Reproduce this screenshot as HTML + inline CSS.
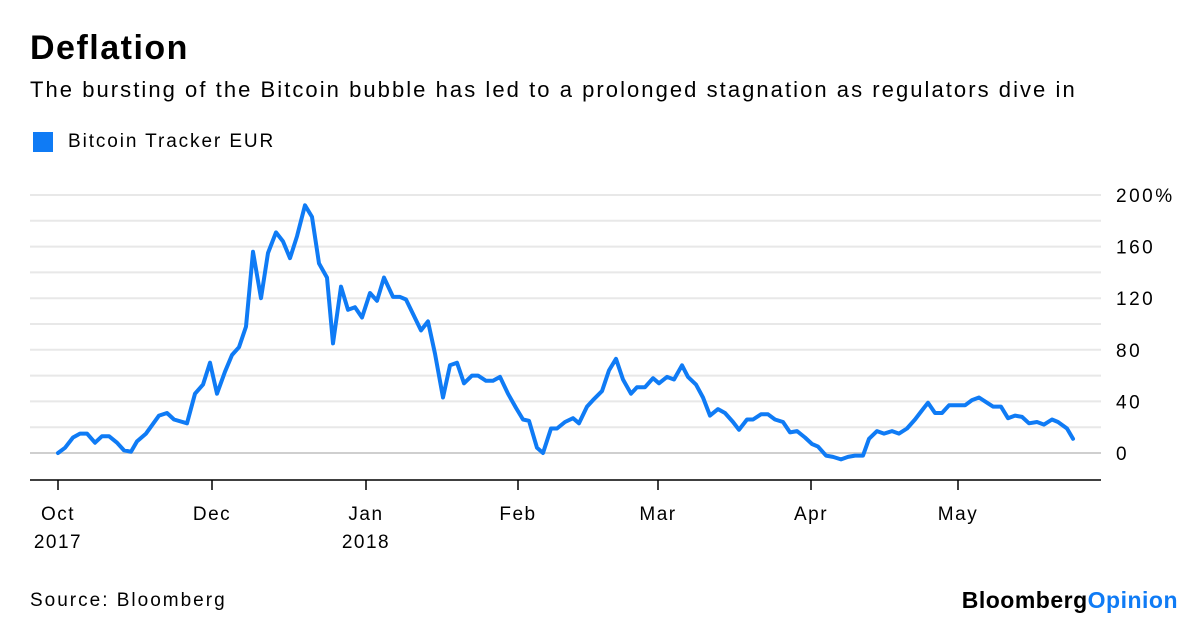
<!DOCTYPE html>
<html><head><meta charset="utf-8"><style>
body{margin:0;width:1200px;height:627px;background:#fff;font-family:"Liberation Sans",sans-serif;overflow:hidden;position:relative}
.t{position:absolute;white-space:nowrap;color:#000}
</style></head><body>
<div class="t" style="left:30px;top:29px;font-size:34px;font-weight:bold;letter-spacing:1.5px">Deflation</div>
<div class="t" style="left:30px;top:77px;font-size:22px;letter-spacing:2.05px">The bursting of the Bitcoin bubble has led to a prolonged stagnation as regulators dive in</div>
<div style="position:absolute;left:33px;top:132px;width:20px;height:20px;background:#0f7bf5"></div>
<div class="t" style="left:68px;top:131px;font-size:19px;letter-spacing:1.9px">Bitcoin Tracker EUR</div>
<svg id="chart" width="1200" height="627" style="position:absolute;left:0;top:0"></svg>
<div class="t" style="left:30px;top:590px;font-size:19px;letter-spacing:2px">Source: Bloomberg</div>
<div class="t" style="right:22px;top:587px;font-size:23px;font-weight:bold;letter-spacing:0.5px">Bloomberg<span style="color:#0f7bf5">Opinion</span></div>
<script>
const tIdx=[0,1.4,3,4.4,5.8,7.4,8.8,10.2,11.8,13.2,14.6,15.8,17.6,20.2,21.8,23.2,25.8,27.4,29,30.4,31.8,33.4,34.8,36.2,37.6,39,40.6,42,43.6,45,46.4,47.8,49.4,50.8,52.2,53.8,55,56.6,58,59.4,60.8,62.4,63.8,65.2,67,68.4,69.6,72.6,74,75.4,77,78.4,79.8,81.2,82.8,84,85.6,87,88.4,90,91.6,93,94.2,95.8,97,98.6,99.8,101.4,103,104.2,105.8,107,108.8,110.2,111.6,113,114.6,115.8,117.4,119,120.2,121.8,123.2,124.8,126,127.6,129,130.4,132,133.4,135,136.2,137.8,139,140.6,142,143.4,145,146.4,147.8,149.4,150.8,152,153.6,155,156.6,158,159.4,161,162.2,163.8,165.2,166.8,168.2,169.8,171.4,172.8,174,175.4,176.8,178.2,179.8,181.4,182.8,184.2,185.8,187,188.6,190,191.4,192.8,194.2,195.8,197.2,198.8,200,201.8,203];
const values=[0,4,12,15,15,8,13,13,8,2,1,9,15,29,31,26,23,46,53,70,46,63,76,82,98,156,120,155,171,164,151,168,192,183,147,136,85,129,111,113,105,124,118,136,121,121,119,95,102,77,43,68,70,54,60,60,56,56,59,46,35,26,25,4,0,19,19,24,27,23,36,41,48,64,73,57,46,51,51,58,54,59,57,68,59,53,43,29,34,31,24,18,26,26,30,30,26,24,16,17,12,7,5,-2,-3,-5,-3,-2,-2,11,17,15,17,15,19,26,33,39,31,31,37,37,37,41,43,39,36,36,27,29,28,23,24,22,26,24,19,11];
const yTicks=[0,40,80,120,160,200];
const yTickLabels=["0","40","80","120","160","200%"];
const monthPos=[0,30.8,61.6,92,120,150.6,180];
const monthLabels=["Oct","Dec","Jan","Feb","Mar","Apr","May"];
const yearLabels=["2017","","2018","","","",""];

const NS="http://www.w3.org/2000/svg";
const svg=document.getElementById('chart');
const x=t=>58+t*5;
const y=v=>453-v*1.29;
function mk(tag,attrs){const e=document.createElementNS(NS,tag);for(const k in attrs)e.setAttribute(k,attrs[k]);svg.appendChild(e);return e;}
for(let v=0;v<=200;v+=20){
  const g=mk('line',{x1:30,x2:1101,y1:y(v),y2:y(v),stroke:v===0?'#cfcfcf':'#e8e8e8','stroke-width':2});
  
  
}
yTicks.forEach((v,i)=>{
  const t=mk('text',{x:1116,y:y(v)+7,'font-size':19,'letter-spacing':'2.5px','font-family':'Liberation Sans, sans-serif',fill:'#000'});
  t.textContent=yTickLabels[i];
  
  
});
const ax=mk('line',{x1:30,x2:1101,y1:480,y2:480,stroke:'#000','stroke-width':1.5});


monthPos.forEach((m,i)=>{
  const tk=mk('line',{x1:x(m),x2:x(m),y1:480,y2:490,stroke:'#000','stroke-width':1.5});
  
  
  const t=mk('text',{x:x(m),y:520,'font-size':19,'letter-spacing':'1.5px','text-anchor':'middle','font-family':'Liberation Sans, sans-serif'});
  t.textContent=monthLabels[i];
  
  
  if(yearLabels[i]){
    const yl=mk('text',{x:x(m),y:548,'font-size':19,'letter-spacing':'1.5px','text-anchor':'middle','font-family':'Liberation Sans, sans-serif'});
    yl.textContent=yearLabels[i];
    
    
  }
});
const d=tIdx.map((t,i)=>(i?'L':'M')+x(t).toFixed(1)+','+y(values[i]).toFixed(1)).join('');
const p=mk('path',{d:d,fill:'none',stroke:'#0f7bf5','stroke-width':4,'stroke-linejoin':'round','stroke-linecap':'round'});


</script>
</body></html>
